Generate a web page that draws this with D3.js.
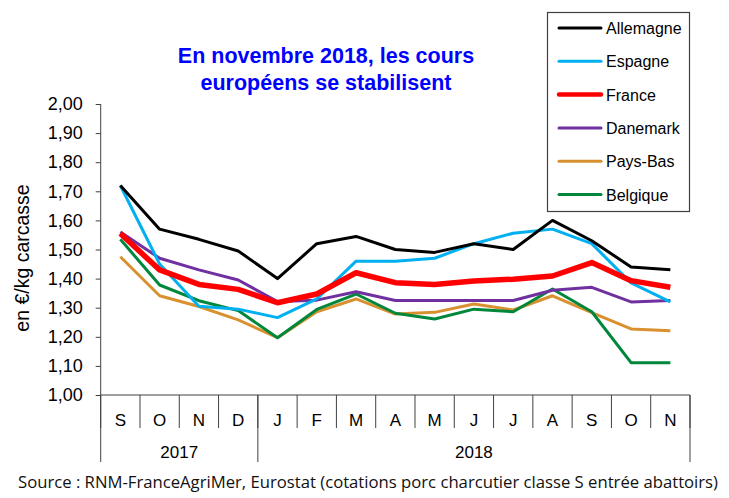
<!DOCTYPE html>
<html>
<head>
<meta charset="utf-8">
<script src="https://cdn.jsdelivr.net/npm/d3@7"></script>
<style>
  body { margin: 0; background: #fff; }
  text { font-family: Arial, "Liberation Sans", sans-serif; }
</style>
</head>
<body>
<div id="chart"></div>
<script>
// data
var months = ["S", "O", "N", "D", "J", "F", "M", "A", "M", "J", "J", "A", "S", "O", "N"];
var years = ["2017", "2018"];
var yearLength = [4, 11];

var countries = ["Allemagne", "Espagne", "France", "Danemark", "Pays-Bas", "Belgique"];
var allemagne = [1.72, 1.57, 1.535, 1.495, 1.40, 1.52, 1.545, 1.50, 1.49, 1.52, 1.50, 1.60, 1.53, 1.44, 1.43];
var espagne   = [1.72, 1.45, 1.305, 1.295, 1.266, 1.33, 1.46, 1.46, 1.47, 1.52, 1.556, 1.57, 1.52, 1.385, 1.32];
var france    = [1.555, 1.43, 1.38, 1.363, 1.317, 1.347, 1.42, 1.386, 1.38, 1.392, 1.398, 1.409, 1.455, 1.393, 1.37];
var danemark  = [1.56, 1.47, 1.43, 1.395, 1.321, 1.326, 1.355, 1.325, 1.325, 1.325, 1.325, 1.36, 1.37, 1.32, 1.325];
var paysBas   = [1.475, 1.341, 1.304, 1.258, 1.197, 1.286, 1.33, 1.278, 1.284, 1.313, 1.292, 1.341, 1.283, 1.227, 1.221];
var belgique  = [1.535, 1.378, 1.324, 1.29, 1.197, 1.294, 1.347, 1.281, 1.261, 1.295, 1.286, 1.364, 1.286, 1.111, 1.111];

var yTicks = [1.0, 1.1, 1.2, 1.3, 1.4, 1.5, 1.6, 1.7, 1.8, 1.9, 2.0];

var series = [
    { name: "Allemagne", values: allemagne, color: "#000000", width: 3 },
    { name: "Espagne", values: espagne, color: "#00b0f0", width: 3 },
    { name: "France", values: france, color: "#ff0000", width: 5.5 },
    { name: "Danemark", values: danemark, color: "#7030a0", width: 3 },
    { name: "Pays-Bas", values: paysBas, color: "#d9912f", width: 3 },
    { name: "Belgique", values: belgique, color: "#00873c", width: 3 }
];
// order lines are drawn in (France on top)
var drawOrder = ["Pays-Bas", "Belgique", "Danemark", "Espagne", "Allemagne", "France"];

//**********************Canvas**********************
var width = 729, height = 498;
var plotLeft = 100.7, plotRight = 690, plotTop = 104, plotBottom = 395;
var axisColor = "#404040";

var svg = d3.select("#chart")
    .append("svg")
    .attr("width", width)
    .attr("height", height);

var x = d3.scaleBand().domain(d3.range(months.length)).range([plotLeft, plotRight]);
var y = d3.scaleLinear().domain([1, 2]).range([plotBottom, plotTop]);

//**********************Title**********************
var title = svg.append("text")
    .attr("text-anchor", "middle")
    .style("font-size", "21.5px")
    .style("font-weight", "bold")
    .attr("fill", "#0000ff");
title.append("tspan").attr("x", 326).attr("y", 63).text("En novembre 2018, les cours");
title.append("tspan").attr("x", 326).attr("y", 90).text("européens se stabilisent");

//**********************Y axis**********************
var yAxis = svg.append("g")
    .attr("transform", "translate(" + plotLeft + ",0)")
    .call(d3.axisLeft(y)
        .tickValues(yTicks)
        .tickSize(5)
        .tickPadding(13)
        .tickFormat(function (d) { return d3.format(".2f")(d).replace(".", ","); }));
yAxis.select(".domain").attr("stroke", axisColor).attr("d", "M0," + plotTop + "V" + plotBottom);
yAxis.selectAll(".tick line").attr("stroke", axisColor);
yAxis.selectAll(".tick text")
    .style("font-size", "18px")
    .style("font-family", "Arial, 'Liberation Sans', sans-serif")
    .attr("fill", "#000");

svg.append("text")
    .attr("transform", "translate(29," + 258 + ") rotate(-90)")
    .attr("text-anchor", "middle")
    .style("font-size", "19.5px")
    .text("en €/kg carcasse");

//**********************X axis (two rows)**********************
var xg = svg.append("g").attr("stroke", axisColor).attr("stroke-width", 1);
xg.append("line")
    .attr("x1", plotLeft).attr("x2", plotRight)
    .attr("y1", plotBottom).attr("y2", plotBottom);

// month separators
var bounds = d3.range(months.length + 1).map(function (i) {
    return i < months.length ? x(i) : x(months.length - 1) + x.bandwidth();
});
xg.selectAll(".msep")
    .data(bounds)
    .enter()
    .append("line")
    .attr("x1", d => d).attr("x2", d => d)
    .attr("y1", plotBottom).attr("y2", plotBottom + 33);

// year separators
var yearStarts = [0];
yearLength.forEach(function (n, i) { yearStarts.push(yearStarts[i] + n); });
xg.selectAll(".ysep")
    .data(yearStarts)
    .enter()
    .append("line")
    .attr("x1", d => bounds[d]).attr("x2", d => bounds[d])
    .attr("y1", plotBottom).attr("y2", plotBottom + 67);

svg.selectAll(".month")
    .data(months)
    .enter()
    .append("text")
    .attr("x", (d, i) => x(i) + x.bandwidth() / 2)
    .attr("y", plotBottom + 31)
    .attr("text-anchor", "middle")
    .style("font-size", "17px")
    .text(d => d);

svg.selectAll(".year")
    .data(years)
    .enter()
    .append("text")
    .attr("x", (d, i) => (bounds[yearStarts[i]] + bounds[yearStarts[i + 1]]) / 2)
    .attr("y", plotBottom + 63)
    .attr("text-anchor", "middle")
    .style("font-size", "17px")
    .text(d => d);

//**********************Lines**********************
var line = d3.line()
    .x((d, i) => x(i) + x.bandwidth() / 2)
    .y(d => y(d));

svg.append("g")
    .selectAll("path")
    .data(drawOrder.map(n => series.find(s => s.name === n)))
    .enter()
    .append("path")
    .attr("d", d => line(d.values))
    .attr("fill", "none")
    .attr("stroke", d => d.color)
    .attr("stroke-width", d => d.width)
    .attr("stroke-linejoin", "round");

//**********************Legend**********************
var legend = svg.append("g");
legend.append("rect")
    .attr("x", 547.5).attr("y", 12.5)
    .attr("width", 142).attr("height", 199)
    .attr("fill", "#fff")
    .attr("stroke", axisColor)
    .attr("stroke-width", 1.2);

var rows = legend.selectAll(".row")
    .data(series)
    .enter()
    .append("g")
    .attr("transform", (d, i) => "translate(0," + (28 + i * 33.3) + ")");
rows.append("line")
    .attr("x1", 559).attr("x2", 601)
    .attr("stroke", d => d.color)
    .attr("stroke-width", d => d.name === "France" ? 4.5 : 3)
    .attr("stroke-linecap", "round");
rows.append("text")
    .attr("x", 606)
    .attr("y", 6)
    .style("font-size", "16px")
    .text(d => d.name);

//**********************Source**********************
svg.append("text")
    .attr("x", 18)
    .attr("y", 488)
    .attr("textLength", 700)
    .attr("lengthAdjust", "spacingAndGlyphs")
    .style("font-family", "'Liberation Sans Narrow', 'Open Sans', sans-serif")
    .style("font-size", "16.5px")
    .attr("fill", "#111")
    .text("Source : RNM-FranceAgriMer, Eurostat (cotations porc charcutier classe S entrée abattoirs)");
</script>
</body>
</html>
